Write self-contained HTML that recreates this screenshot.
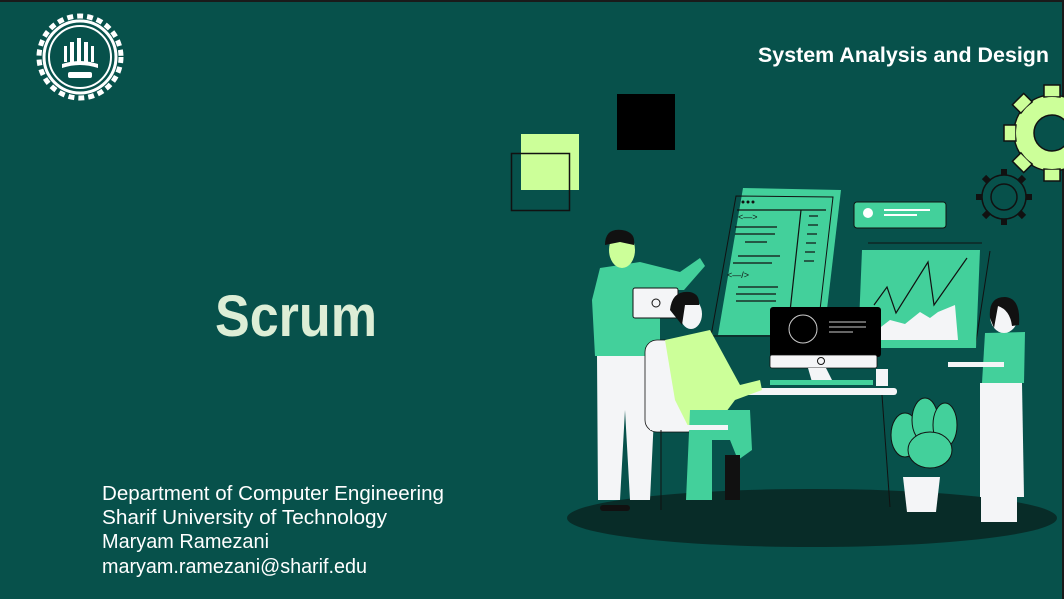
<!DOCTYPE html>
<html><head><meta charset="utf-8"><style>
html,body{margin:0;padding:0;background:#07514B;}
svg{display:block;}
text{font-family:"Liberation Sans",sans-serif;}
</style></head><body>
<svg width="1064" height="599" viewBox="0 0 1064 599" xmlns="http://www.w3.org/2000/svg">
<rect width="1064" height="599" fill="#07514B"/>
<rect width="1064" height="2" fill="#1a1a1a"/>
<rect x="1062" y="0" width="2" height="599" fill="#1a1a1a"/>

<!-- logo -->
<g fill="none" stroke="#fff">
<circle cx="80" cy="57" r="41" stroke-width="5" stroke-dasharray="6 4"/>
<circle cx="80" cy="57" r="36" stroke-width="3"/>
<circle cx="80" cy="57" r="31" stroke-width="2"/>
</g>
<g fill="#fff">
<rect x="70" y="42" width="4" height="20"/><rect x="77" y="38" width="4" height="24"/><rect x="84" y="42" width="4" height="20"/>
<rect x="64" y="46" width="3" height="16"/><rect x="91" y="46" width="3" height="16"/>
<path d="M62 64 Q80 58 98 64 L98 68 Q80 62 62 68Z"/>
<rect x="68" y="72" width="24" height="6" rx="2"/>
</g>

<text x="1049" y="62" text-anchor="end" font-size="21" font-weight="bold" fill="#fff" textLength="291" lengthAdjust="spacingAndGlyphs">System Analysis and Design</text>
<text x="215" y="336" font-size="58" font-weight="bold" fill="#DDEED6" textLength="162" lengthAdjust="spacingAndGlyphs">Scrum</text>
<g font-size="20" fill="#fff">
<text x="102" y="500" textLength="342" lengthAdjust="spacingAndGlyphs">Department of Computer Engineering</text>
<text x="102" y="524" textLength="285" lengthAdjust="spacingAndGlyphs">Sharif University of Technology</text>
<text x="102" y="548" textLength="167" lengthAdjust="spacingAndGlyphs">Maryam Ramezani</text>
<text x="102" y="573" textLength="265" lengthAdjust="spacingAndGlyphs">maryam.ramezani@sharif.edu</text>
</g>

<!-- squares -->
<rect x="521" y="134" width="58" height="56" fill="#CCFF99"/>
<rect x="511.5" y="153.5" width="58" height="57" fill="none" stroke="#111" stroke-width="1.5"/>
<rect x="617" y="94" width="58" height="56" fill="#000"/>

<!-- gears -->
<g transform="translate(1052,133)">
<circle r="38" fill="#CCFF99" stroke="#111" stroke-width="1.5"/>
<g fill="#CCFF99" stroke="#111" stroke-width="1.5">
<rect x="-8" y="-48" width="16" height="12"/><rect x="-8" y="36" width="16" height="12"/>
<rect x="-48" y="-8" width="12" height="16"/>
<rect x="-8" y="-48" width="16" height="12" transform="rotate(45)"/><rect x="-8" y="-48" width="16" height="12" transform="rotate(-45)"/>
<rect x="-8" y="-48" width="16" height="12" transform="rotate(-135)"/><rect x="-8" y="-48" width="16" height="12" transform="rotate(135)"/>
</g>
<circle r="36" fill="#CCFF99"/>
<circle r="18" fill="#07514B" stroke="#111" stroke-width="1.5"/>
</g>
<g transform="translate(1004,197)" fill="none" stroke="#111" stroke-width="1.5">
<circle r="22"/><circle r="13"/>
<g stroke-width="6"><line x1="0" y1="-22" x2="0" y2="-28"/><line x1="0" y1="22" x2="0" y2="28"/><line x1="-22" y1="0" x2="-28" y2="0"/><line x1="22" y1="0" x2="28" y2="0"/>
<line x1="15" y1="15" x2="20" y2="20"/><line x1="-15" y1="15" x2="-20" y2="20"/><line x1="15" y1="-15" x2="20" y2="-20"/><line x1="-15" y1="-15" x2="-20" y2="-20"/></g>
</g>

<!-- floor -->
<ellipse cx="812" cy="518" rx="245" ry="29" fill="#082C28"/>

<!-- code screen -->
<polygon points="743,188 841,190 824,335 718,335" fill="#43D09B"/>
<polygon points="736,196 833,197 817,336 711,336" fill="none" stroke="#111" stroke-width="1"/>
<g stroke="#111" stroke-width="1.2">
<line x1="737" y1="210" x2="826" y2="210"/><line x1="801" y1="210" x2="788" y2="330"/>
<line x1="735" y1="227" x2="777" y2="227"/><line x1="735" y1="234" x2="775" y2="234"/><line x1="745" y1="242" x2="767" y2="242"/>
<line x1="738" y1="256" x2="780" y2="256"/><line x1="733" y1="263" x2="772" y2="263"/>
<line x1="738" y1="287" x2="778" y2="287"/><line x1="736" y1="294" x2="776" y2="294"/><line x1="736" y1="301" x2="776" y2="301"/>
<line x1="809" y1="216" x2="818" y2="216"/><line x1="808" y1="225" x2="818" y2="225"/><line x1="807" y1="234" x2="817" y2="234"/><line x1="806" y1="243" x2="816" y2="243"/><line x1="805" y1="252" x2="815" y2="252"/><line x1="804" y1="261" x2="814" y2="261"/>
</g>
<g fill="#111"><circle cx="743" cy="202" r="1.5"/><circle cx="748" cy="202" r="1.5"/><circle cx="753" cy="202" r="1.5"/></g>
<text x="738" y="220" font-size="9" fill="#111">&lt;—&gt;</text>
<text x="727" y="278" font-size="9" fill="#111">&lt;—/&gt;</text>

<!-- notification -->
<rect x="854" y="202" width="92" height="26" rx="3" fill="#43D09B" stroke="#111"/>
<circle cx="868" cy="213" r="5" fill="#fff"/>
<line x1="884" y1="210" x2="930" y2="210" stroke="#fff" stroke-width="2"/><line x1="884" y1="215" x2="917" y2="215" stroke="#fff" stroke-width="2"/>

<!-- chart -->
<line x1="868" y1="243" x2="982" y2="243" stroke="#111"/>
<line x1="990" y1="251" x2="975" y2="348" stroke="#111"/>
<polygon points="862,250 980,250 976,348 858,348" fill="#43D09B"/>
<polygon points="877,330 890,320 905,324 920,312 930,318 938,312 955,305 958,340 877,340" fill="#F4F5F7"/>
<polyline points="874,305 887,287 896,313 928,262 934,305 967,258" fill="none" stroke="#111" stroke-width="1.2"/>

<!-- monitor -->
<rect x="770" y="307" width="111" height="50" rx="3" fill="#000"/>
<rect x="770" y="355" width="107" height="13" rx="2" fill="#F4F5F7" stroke="#111" stroke-width="0.8"/>
<circle cx="821" cy="361" r="3.5" fill="none" stroke="#111"/>
<polygon points="808,368 826,368 833,382 812,382" fill="#F4F5F7"/>
<circle cx="803" cy="329" r="14" fill="none" stroke="#ccc"/>
<g stroke="#ccc"><line x1="829" y1="322" x2="866" y2="322"/><line x1="829" y1="327" x2="866" y2="327"/><line x1="829" y1="332" x2="853" y2="332"/></g>
<!-- desk -->
<rect x="770" y="380" width="103" height="5" fill="#43D09B"/>
<rect x="876" y="369" width="12" height="17" fill="#F4F5F7"/>
<rect x="716" y="388" width="181" height="7" rx="3" fill="#F4F5F7"/>
<line x1="882" y1="395" x2="890" y2="507" stroke="#111"/>

<!-- plant -->
<g fill="#43D09B" stroke="#111" stroke-width="1">
<ellipse cx="905" cy="435" rx="14" ry="22"/><ellipse cx="925" cy="420" rx="13" ry="22"/><ellipse cx="945" cy="425" rx="12" ry="22"/><ellipse cx="930" cy="450" rx="22" ry="18"/>
</g>
<polygon points="903,477 940,477 936,512 907,512" fill="#F4F5F7"/>

<!-- standing man -->
<rect x="600" y="505" width="30" height="6" rx="3" fill="#111"/>
<polygon points="597,356 657,354 650,500 630,500 625,410 620,500 598,500" fill="#F4F5F7"/>
<polygon points="600,268 640,262 680,272 700,258 705,266 684,290 660,290 660,356 595,356 592,300" fill="#43D09B"/>
<rect x="633" y="288" width="45" height="30" rx="2" fill="#F4F5F7" stroke="#111"/>
<circle cx="656" cy="303" r="4" fill="none" stroke="#111"/>
<ellipse cx="622" cy="250" rx="13" ry="18" fill="#CCFF99"/>
<path d="M605 245 Q605 228 622 230 Q636 232 634 245 L620 242 Z" fill="#111"/>

<!-- chair / seated man -->
<rect x="645" y="340" width="55" height="92" rx="12" fill="#F4F5F7" stroke="#111" stroke-width="0.8"/>
<polygon points="665,340 710,330 740,385 760,380 762,390 735,400 720,420 690,430 675,400" fill="#CCFF99"/>
<polygon points="690,410 750,410 752,450 738,460 730,440 712,440 712,500 686,500" fill="#43D09B"/>
<rect x="725" y="455" width="15" height="45" fill="#111"/>
<rect x="650" y="425" width="78" height="5" fill="#F4F5F7"/>
<ellipse cx="691" cy="314" rx="11" ry="15" fill="#F4F5F7"/>
<path d="M670 310 Q672 290 690 292 Q700 294 699 305 L685 305 L682 325 Z" fill="#111"/>
<line x1="661" y1="430" x2="661" y2="510" stroke="#111"/>

<!-- woman -->
<rect x="981" y="497" width="36" height="25" fill="#F4F5F7"/>
<polygon points="980,383 1022,383 1024,497 980,497" fill="#F4F5F7"/>
<polygon points="985,333 1025,332 1024,383 982,383" fill="#43D09B"/>
<rect x="948" y="362" width="56" height="5" fill="#F4F5F7"/>
<ellipse cx="1004" cy="316" rx="14" ry="17" fill="#F4F5F7"/>
<path d="M990 318 Q988 297 1005 297 Q1021 298 1019 325 L1012 326 Q1010 310 998 306 L994 328 Z" fill="#111"/>
</svg>
</body></html>
